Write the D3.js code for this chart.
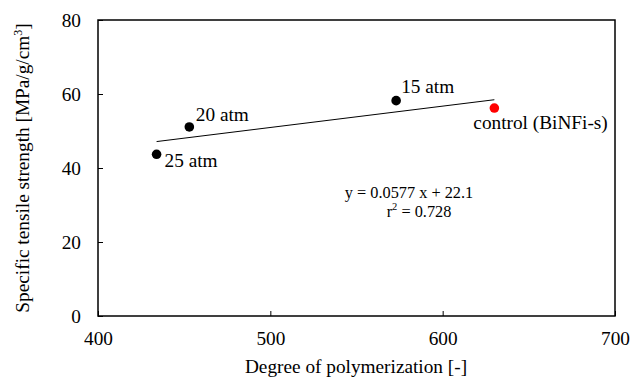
<!DOCTYPE html>
<html>
<head>
<meta charset="utf-8">
<script src="https://cdn.jsdelivr.net/npm/d3@7"></script>
<style>
  body { margin: 0; background: #fff; }
</style>
</head>
<body>
<div id="chart"></div>
<script>
// data
const labels = ['25 atm', '20 atm', '15 atm', 'control (BiNFi-s)'];
const dp = [434, 453, 573, 630];
const strength = [43.7, 51.1, 58.2, 56.2];
const colors = ['#000', '#000', '#000', '#ff0000'];
const xTicks = [400, 500, 600, 700];
const yTicks = [0, 20, 40, 60, 80];
const fitSlope = 0.0577;
const fitIntercept = 22.1;

const width = 630;
const height = 384;
const margin = { top: 20, right: 15, bottom: 68, left: 98 };
const serif = '"Liberation Serif", "Times New Roman", Times, serif';
const fs = '19.3px';

const svg = d3.select('#chart')
  .append('svg')
  .attr('width', width)
  .attr('height', height)
  .attr('font-family', serif);

const x = d3.scaleLinear()
  .domain([400, 700])
  .range([margin.left, width - margin.right]);

const y = d3.scaleLinear()
  .domain([0, 80])
  .range([height - margin.bottom, margin.top]);

// frame
svg.append('rect')
  .attr('x', x(400))
  .attr('y', y(80))
  .attr('width', x(700) - x(400))
  .attr('height', y(0) - y(80))
  .attr('fill', 'none')
  .attr('stroke', '#000')
  .attr('stroke-width', 1.5);

svg.append('g')
  .attr('transform', `translate(0,${y(0)})`)
  .call(d3.axisBottom(x).tickValues(xTicks).tickSize(-5).tickPadding(15).tickFormat(d3.format('d')))
  .attr('font-family', serif)
  .call(g => g.select('.domain').remove())
  .call(g => g.selectAll('.tick line').attr('stroke', '#000'))
  .call(g => g.selectAll('text').style('font-size', fs).attr('fill', '#000'));

svg.append('g')
  .attr('transform', `translate(${x(400)},0)`)
  .call(d3.axisLeft(y).tickValues(yTicks).tickSize(-5).tickPadding(17))
  .attr('font-family', serif)
  .call(g => g.select('.domain').remove())
  .call(g => g.selectAll('.tick line').attr('stroke', '#000'))
  .call(g => g.selectAll('text').style('font-size', fs).attr('fill', '#000'));

// trend line
const x0 = d3.min(dp), x1 = d3.max(dp);
svg.append('line')
  .attr('x1', x(x0))
  .attr('y1', y(fitSlope * x0 + fitIntercept))
  .attr('x2', x(x1))
  .attr('y2', y(fitSlope * x1 + fitIntercept))
  .attr('stroke', '#000')
  .attr('stroke-width', 1);

const pts = dp.map((d, i) => ({ x: d, y: strength[i], label: labels[i], color: colors[i] }));

svg.selectAll('.dot')
  .data(pts)
  .enter()
  .append('circle')
  .attr('cx', d => x(d.x))
  .attr('cy', d => y(d.y))
  .attr('r', 4.8)
  .attr('fill', d => d.color);

// point labels offsets
const offsets = [[8, 13], [6.5, -6], [5, -8], [-21, 21]];
svg.selectAll('.lbl')
  .data(pts)
  .enter()
  .append('text')
  .attr('x', (d, i) => x(d.x) + offsets[i][0])
  .attr('y', (d, i) => y(d.y) + offsets[i][1])
  .style('font-size', fs)
  .text(d => d.label);

// equation
svg.append('text')
  .attr('x', 409)
  .attr('y', 198)
  .attr('text-anchor', 'middle')
  .style('font-size', '16.3px')
  .text(`y = ${fitSlope} x + ${fitIntercept}`);

const r2 = svg.append('text')
  .attr('x', 419)
  .attr('y', 217)
  .attr('text-anchor', 'middle')
  .style('font-size', '16.3px');
r2.append('tspan').text('r');
r2.append('tspan').attr('dy', -7).style('font-size', '10.5px').text('2');
r2.append('tspan').attr('dy', 7).text(' = 0.728');

// axis titles
svg.append('text')
  .attr('x', 356)
  .attr('y', 373)
  .attr('text-anchor', 'middle')
  .style('font-size', fs)
  .text('Degree of polymerization [-]');

const yt = svg.append('text')
  .attr('transform', `translate(29,${(y(0) + y(80)) / 2}) rotate(-90)`)
  .attr('text-anchor', 'middle')
  .style('font-size', fs);
yt.append('tspan').text('Specific tensile strength [MPa/g/cm');
yt.append('tspan').attr('dy', -7).style('font-size', '12px').text('3');
yt.append('tspan').attr('dy', 7).text(']');
</script>
</body>
</html>
